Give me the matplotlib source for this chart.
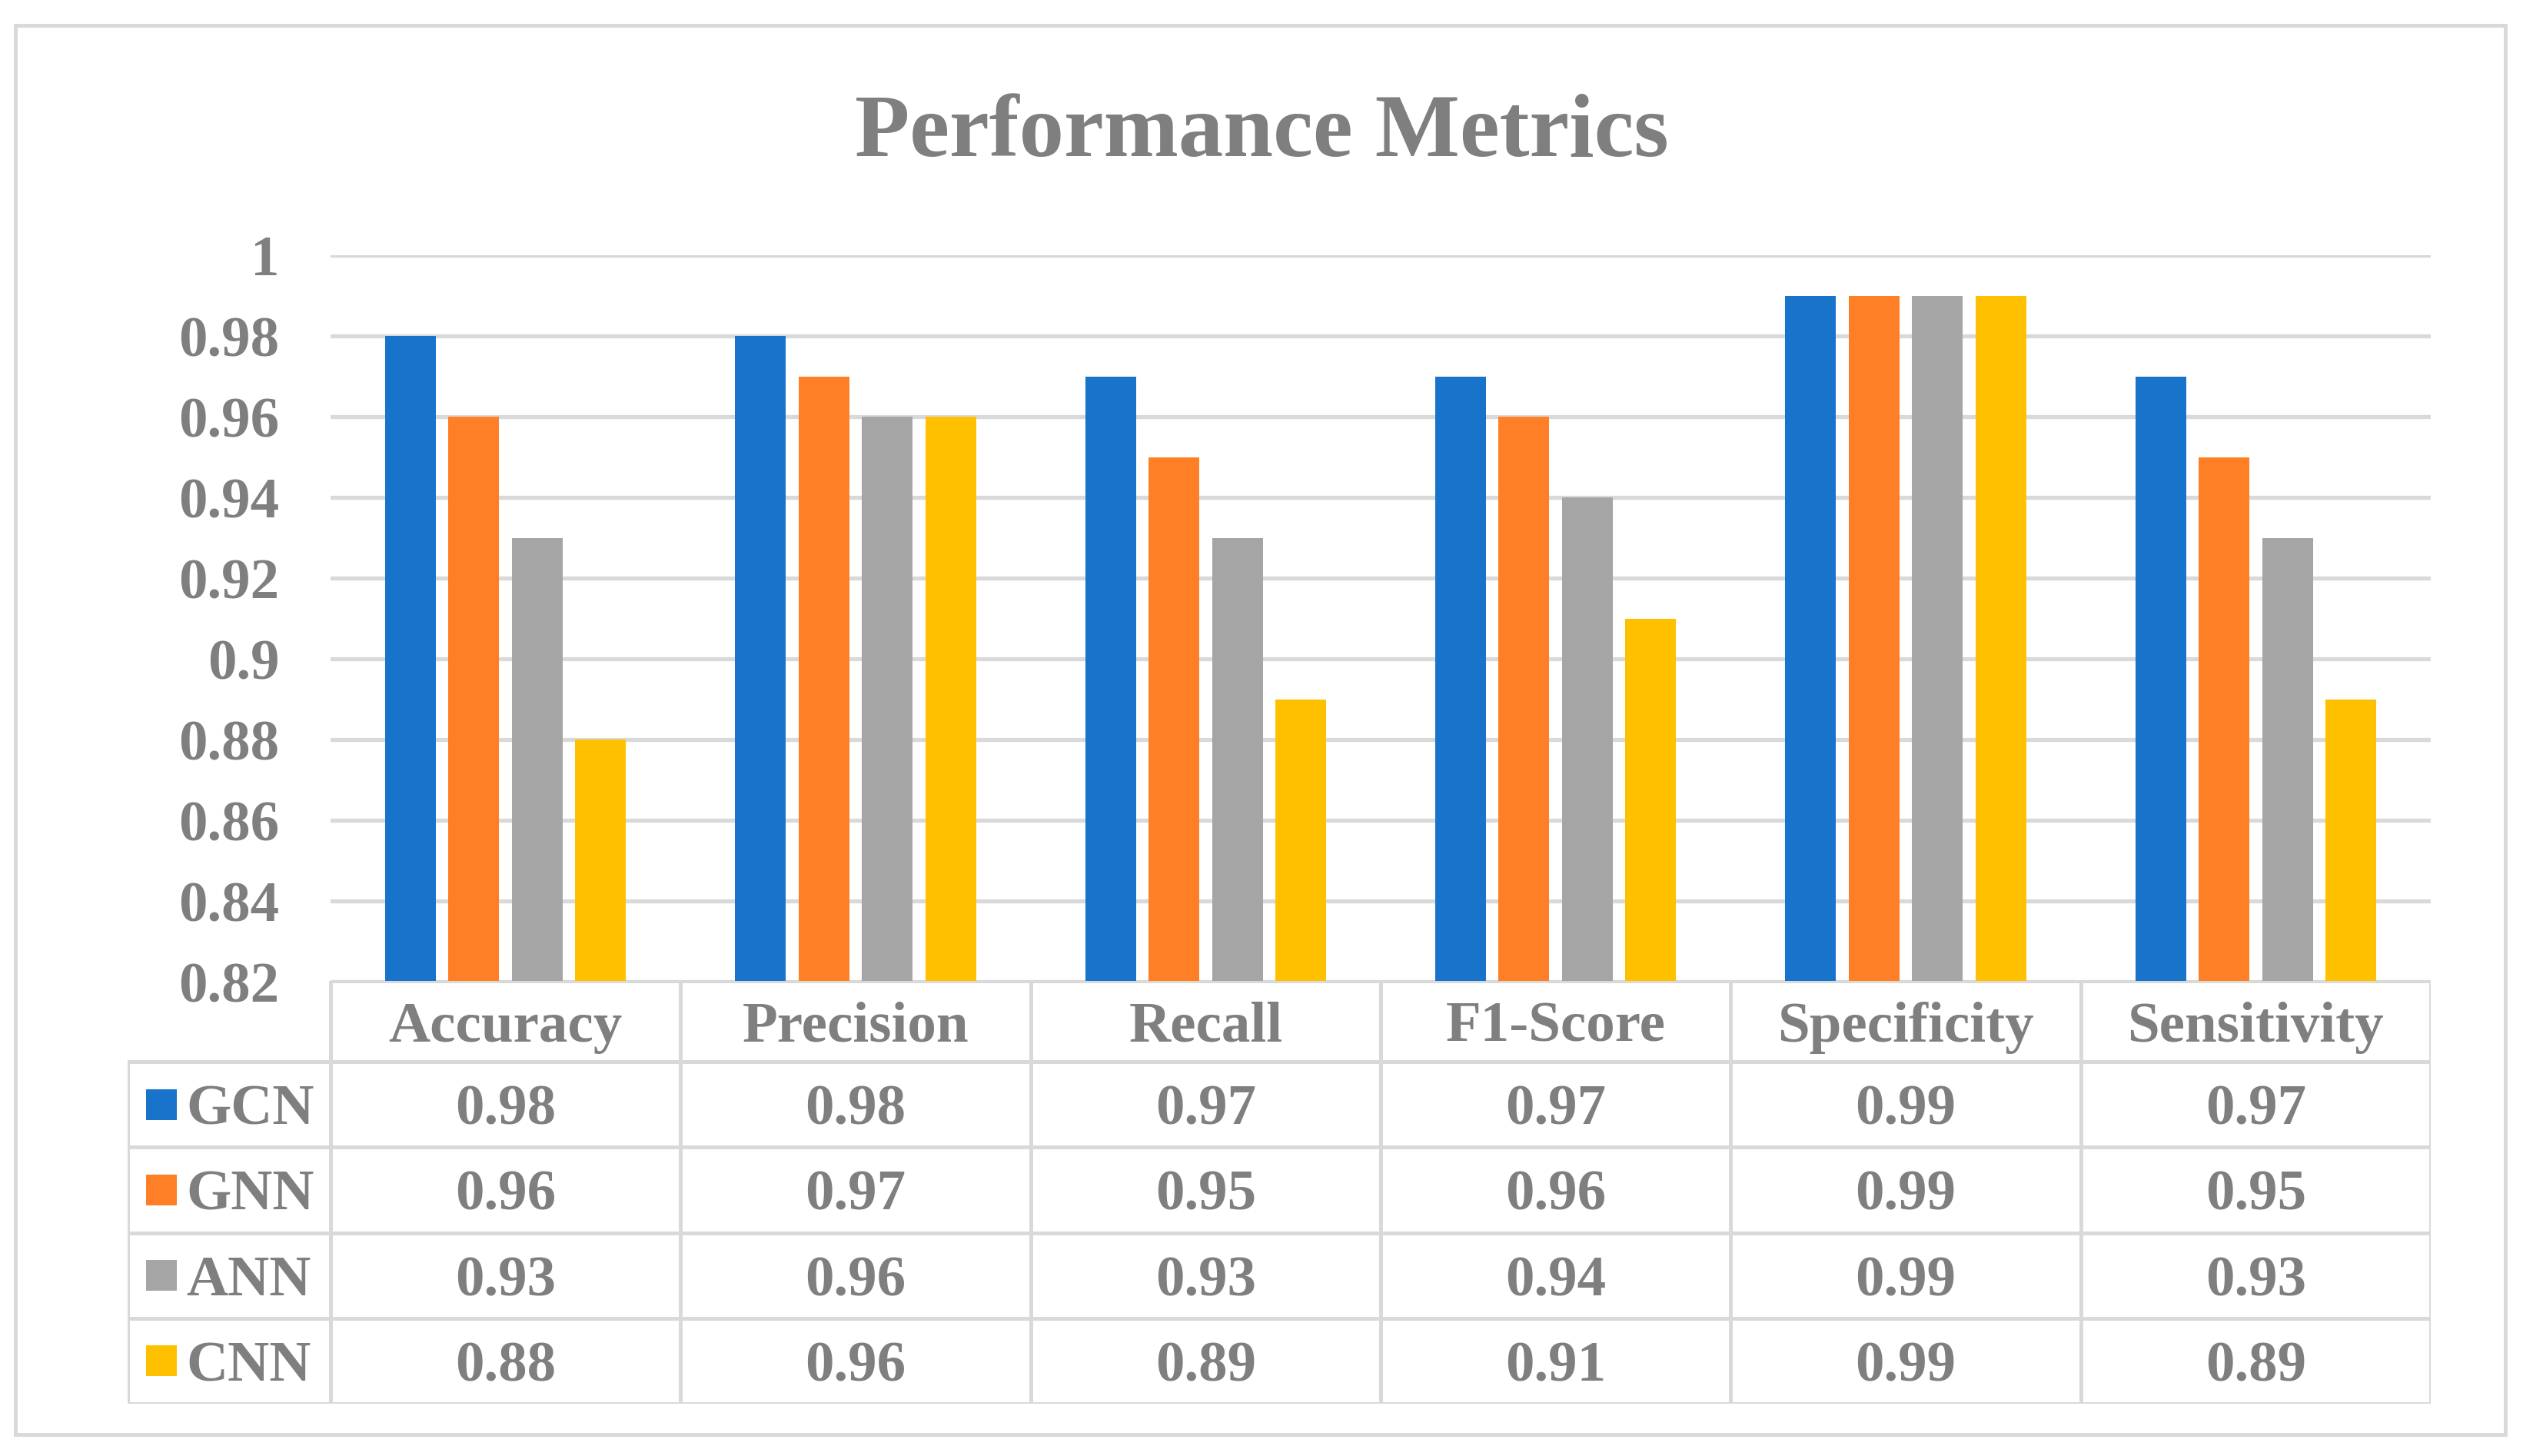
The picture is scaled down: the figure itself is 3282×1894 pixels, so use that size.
import matplotlib
matplotlib.use('Agg')  # non-interactive backend
import matplotlib.pyplot as plt
from matplotlib.patches import Rectangle
import numpy as np

# Data
metrics = ['Accuracy', 'Precision', 'Recall', 'F1-Score', 'Specificity', 'Sensitivity']
models = ['GCN', 'GNN', 'ANN', 'CNN']
gcn = [0.98, 0.98, 0.97, 0.97, 0.99, 0.97]
gnn = [0.96, 0.97, 0.95, 0.96, 0.99, 0.95]
ann = [0.93, 0.96, 0.93, 0.94, 0.99, 0.93]
cnn = [0.88, 0.96, 0.89, 0.91, 0.99, 0.89]
y_ticks = [0.82, 0.84, 0.86, 0.88, 0.9, 0.92, 0.94, 0.96, 0.98, 1]
y_tick_labels = ['0.82', '0.84', '0.86', '0.88', '0.9', '0.92', '0.94', '0.96', '0.98', '1']

series = [gcn, gnn, ann, cnn]
colors = ['#1874CB', '#FF7F27', '#A5A5A5', '#FFC000']
text_color = '#7F7F7F'
line_color = '#D9D9D9'

plt.rcParams['font.family'] = ['Liberation Serif', 'DejaVu Serif']
plt.rcParams['font.weight'] = 'bold'

W, H = 3282, 1894
DPI = 200
fig = plt.figure(figsize=(W / DPI, H / DPI), dpi=DPI)


def px_box(left, top, right, bottom):
    # pixel box -> figure fraction [l, b, w, h]
    return [left / W, 1 - bottom / H, (right - left) / W, (bottom - top) / H]


# Outer chart border
fig.patches.append(Rectangle((20 / W, 1 - 1866 / H), (3259 - 20) / W, (1866 - 33) / H,
                             transform=fig.transFigure, fill=False,
                             edgecolor=line_color, linewidth=1.8))

# Title
fig.text(1641 / W, 1 - 203 / H, 'Performance Metrics', ha='center', va='baseline',
         fontsize=42, fontweight='bold', color=text_color)

# Bar chart
ax = fig.add_axes(px_box(430, 332, 3162, 1277))
x = np.arange(len(metrics))
bar_w = 0.145
pitch = 0.181
for i, (vals, c) in enumerate(zip(series, colors)):
    offs = (i - (len(series) - 1) / 2) * pitch
    ax.bar(x + offs, vals, width=bar_w, color=c, zorder=3, label=models[i])

ax.set_xlim(-0.5, len(metrics) - 0.5)
ax.set_ylim(y_ticks[0], y_ticks[-1])
ax.set_yticks(y_ticks)
ax.set_yticklabels(y_tick_labels)
ax.set_xticks([])
ax.tick_params(axis='y', length=0, pad=24, labelsize=27, labelcolor=text_color)
for lbl in ax.get_yticklabels():
    lbl.set_fontweight('bold')
ax.grid(axis='y', color=line_color, linewidth=1.9, zorder=0)
for s in ax.spines.values():
    s.set_visible(False)

# Data table under the bars
tax = fig.add_axes(px_box(166, 1276, 3162, 1826))
left_edge = -0.5 - (430 - 166) / 455
head_h = 105 / 111
n_rows = len(models)
bottom = head_h + n_rows
tax.set_xlim(left_edge, len(metrics) - 0.5)
tax.set_ylim(bottom, 0)
tax.axis('off')

lw = 1.8
# horizontal lines
tax.plot([-0.5, len(metrics) - 0.5], [0, 0], color=line_color, lw=lw, solid_capstyle='projecting')
for r in range(n_rows + 1):
    yy = head_h + r
    tax.plot([left_edge, len(metrics) - 0.5], [yy, yy], color=line_color, lw=lw,
             solid_capstyle='projecting')
# vertical lines
tax.plot([left_edge, left_edge], [head_h, bottom], color=line_color, lw=lw,
         solid_capstyle='projecting')
for k in range(len(metrics) + 1):
    xx = -0.5 + k
    tax.plot([xx, xx], [0, bottom], color=line_color, lw=lw, solid_capstyle='projecting')

for j, m in enumerate(metrics):
    tax.text(j, head_h / 2, m, ha='center', va='center_baseline', fontsize=27,
             fontweight='bold', color=text_color)

sq_w = 40 / 455
sq_h = 40 / 111
for i, (name, vals, c) in enumerate(zip(models, series, colors)):
    yc = head_h + i + 0.5
    tax.add_patch(Rectangle((left_edge + 24 / 455, yc - sq_h / 2), sq_w, sq_h,
                            facecolor=c, edgecolor='none'))
    tax.text(left_edge + 76 / 455, yc, name, ha='left', va='center_baseline', fontsize=27,
             fontweight='bold', color=text_color)
    for j, v in enumerate(vals):
        tax.text(j, yc, f'{v:.2f}', ha='center', va='center_baseline', fontsize=27,
                 fontweight='bold', color=text_color)

fig.savefig('out.png', dpi=DPI)
